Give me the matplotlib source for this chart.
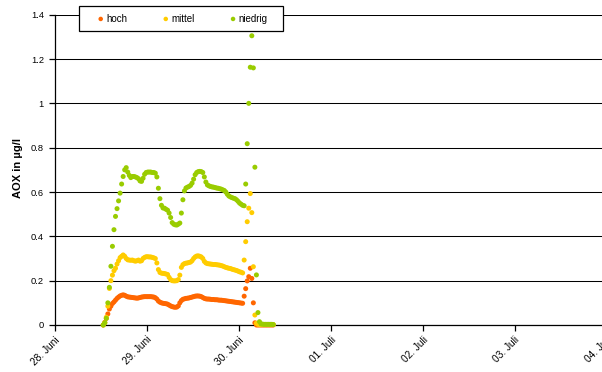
import numpy as np
import matplotlib
matplotlib.use("Agg")
import matplotlib.pyplot as plt
from matplotlib.patches import Rectangle

plt.rcParams['font.family'] = ['Liberation Sans', 'DejaVu Sans']

# Sampling grid: first sample on 28 June 12:36, one sample every 24 minutes
start_hour = 12.6
step_hour = 0.4

hoch = [
    0.0, 0.012, 0.03, 0.05, 0.072, 0.085, 0.097, 0.104, 0.112, 0.12,
    0.126, 0.131, 0.134, 0.136, 0.134, 0.13, 0.127, 0.126, 0.125, 0.124,
    0.123, 0.122, 0.121, 0.122, 0.124, 0.126, 0.127, 0.128, 0.128, 0.128,
    0.128, 0.128, 0.127, 0.126, 0.123, 0.117, 0.108, 0.103, 0.10, 0.098,
    0.097, 0.096, 0.094, 0.09, 0.086, 0.083, 0.081, 0.08, 0.081, 0.086,
    0.10, 0.11, 0.116, 0.118, 0.12, 0.121, 0.122, 0.124, 0.126, 0.128,
    0.13, 0.131, 0.131, 0.13, 0.128, 0.124, 0.12, 0.118, 0.117, 0.117,
    0.116, 0.115, 0.115, 0.114, 0.114, 0.113, 0.112, 0.112, 0.111, 0.11,
    0.109, 0.108, 0.107, 0.106, 0.105, 0.104, 0.103, 0.102, 0.101, 0.10,
    0.099, 0.098, 0.13, 0.164, 0.199, 0.218, 0.256, 0.21, 0.10, 0.01,
    0.0, 0.0, 0.0, 0.0, 0.0, 0.0, 0.0, 0.0, 0.0, 0.0,
    0.0, 0.0,
]

mittel = [
    0.0, 0.01, 0.035, 0.085, 0.165, 0.20, 0.225, 0.245, 0.256, 0.275,
    0.29, 0.304, 0.31, 0.316, 0.31, 0.30, 0.294, 0.293, 0.292, 0.293,
    0.29, 0.288, 0.29, 0.293, 0.288, 0.29, 0.30, 0.305, 0.308, 0.308,
    0.307, 0.307, 0.305, 0.303, 0.30, 0.28, 0.25, 0.237, 0.234, 0.233,
    0.232, 0.23, 0.228, 0.215, 0.205, 0.20, 0.199, 0.199, 0.20, 0.205,
    0.225, 0.26, 0.272, 0.277, 0.279, 0.28, 0.282, 0.284, 0.29, 0.30,
    0.307, 0.311, 0.312, 0.31, 0.307, 0.30, 0.287, 0.28, 0.277, 0.276,
    0.275, 0.274, 0.273, 0.273, 0.272, 0.271, 0.27, 0.268, 0.266, 0.263,
    0.26, 0.258, 0.256, 0.255, 0.252, 0.25, 0.248, 0.246, 0.243, 0.24,
    0.238, 0.235, 0.293, 0.376, 0.466, 0.527, 0.593, 0.507, 0.263, 0.045,
    0.008, 0.003, 0.002, 0.002, 0.002, 0.002, 0.002, 0.002, 0.002, 0.002,
    0.002, 0.002,
]

niedrig = [
    0.0, 0.01, 0.03, 0.10, 0.17, 0.265, 0.355, 0.43, 0.49, 0.525,
    0.56, 0.595, 0.636, 0.67, 0.70, 0.71, 0.69, 0.675, 0.665, 0.67,
    0.67, 0.668, 0.665, 0.66, 0.65, 0.648, 0.662, 0.68, 0.688, 0.69,
    0.69, 0.69, 0.688, 0.688, 0.685, 0.668, 0.617, 0.57, 0.54, 0.528,
    0.527, 0.522, 0.518, 0.505, 0.485, 0.462, 0.455, 0.452, 0.451, 0.455,
    0.46, 0.505, 0.565, 0.605, 0.618, 0.622, 0.625, 0.63, 0.64, 0.658,
    0.678, 0.688, 0.692, 0.693, 0.692, 0.688, 0.668, 0.645, 0.632, 0.628,
    0.625, 0.623, 0.622, 0.62, 0.618, 0.617, 0.615, 0.613, 0.61, 0.607,
    0.60, 0.59, 0.582, 0.578, 0.575, 0.572, 0.57, 0.565, 0.558, 0.55,
    0.545, 0.54, 0.538, 0.636, 0.818, 1.0, 1.163, 1.305, 1.16, 0.712,
    0.226, 0.056, 0.015, 0.005, 0.004, 0.003, 0.003, 0.003, 0.003, 0.003,
    0.003, 0.002,
]

series_names = ["hoch", "mittel", "niedrig"]
series_colors = ["#FF6600", "#FFCC00", "#99CC00"]

day_labels = ["28. Juni", "29. Juni", "30. Juni", "01. Juli",
              "02. Juli", "03. Juli", "04. Juli"]
y_ticks = [0, 0.2, 0.4, 0.6, 0.8, 1.0, 1.2, 1.4]
y_tick_labels = ["0", "0.2", "0.4", "0.6", "0.8", "1", "1.2", "1.4"]

# time in days since 28 June 00:00
t_days = (start_hour + step_hour * np.arange(len(hoch))) / 24.0

W, H = 602, 372
fig = plt.figure(figsize=(W / 100, H / 100), dpi=100)

ax_left, ax_right = 55, 610
ax_top, ax_bottom = 14.7, 325
ax = fig.add_axes([ax_left / W, 1 - ax_bottom / H,
                   (ax_right - ax_left) / W, (ax_bottom - ax_top) / H])

px_per_day = 91.9
ax.set_xlim(0, (ax_right - ax_left) / px_per_day)
ax.set_ylim(0, 1.4)

for vals, name, col in zip([hoch, mittel, niedrig], series_names, series_colors):
    ax.scatter(t_days, vals, s=13, color=col, edgecolors='none',
               label=name, clip_on=False, zorder=3)

ax.set_yticks(y_ticks)
ax.set_yticklabels(y_tick_labels, fontsize=6.7)
ax.set_xticks(range(len(day_labels)))
ax.set_xticklabels(day_labels, fontsize=7.3, rotation=45,
                   ha='right', va='top', rotation_mode='anchor')

ax.grid(axis='y', color='black', linewidth=0.75)
ax.set_axisbelow(True)
for side in ['top', 'right']:
    ax.spines[side].set_visible(False)
for side in ['left', 'bottom']:
    ax.spines[side].set_linewidth(0.9)
    ax.spines[side].set_color('black')
ax.tick_params(axis='both', direction='out', length=4, width=0.9,
               color='black', labelcolor='black')
ax.tick_params(axis='y', pad=4)
ax.tick_params(axis='x', pad=3)

fig.text(18 / W, 1 - 168 / H, "AOX in µg/l", rotation=90,
         ha='center', va='center', fontsize=8, fontweight='bold')

# legend frame
lx0, ly0, lx1, ly1 = 79, 6, 283, 31
fig.patches.append(Rectangle((lx0 / W, 1 - ly1 / H), (lx1 - lx0) / W,
                             (ly1 - ly0) / H, transform=fig.transFigure,
                             facecolor='white', edgecolor='black',
                             linewidth=0.9, zorder=4))
handles, labels = ax.get_legend_handles_labels()
leg = fig.legend(handles, labels, ncol=3, frameon=False, fontsize=7,
                 loc='center left', bbox_to_anchor=(97.8 / W, 1 - 18.5 / H),
                 borderpad=0, borderaxespad=0, handlelength=0.6,
                 handletextpad=0.3, columnspacing=3.63, markerscale=0.9)
leg.set_zorder(5)

fig.savefig("out.png", dpi=100)
